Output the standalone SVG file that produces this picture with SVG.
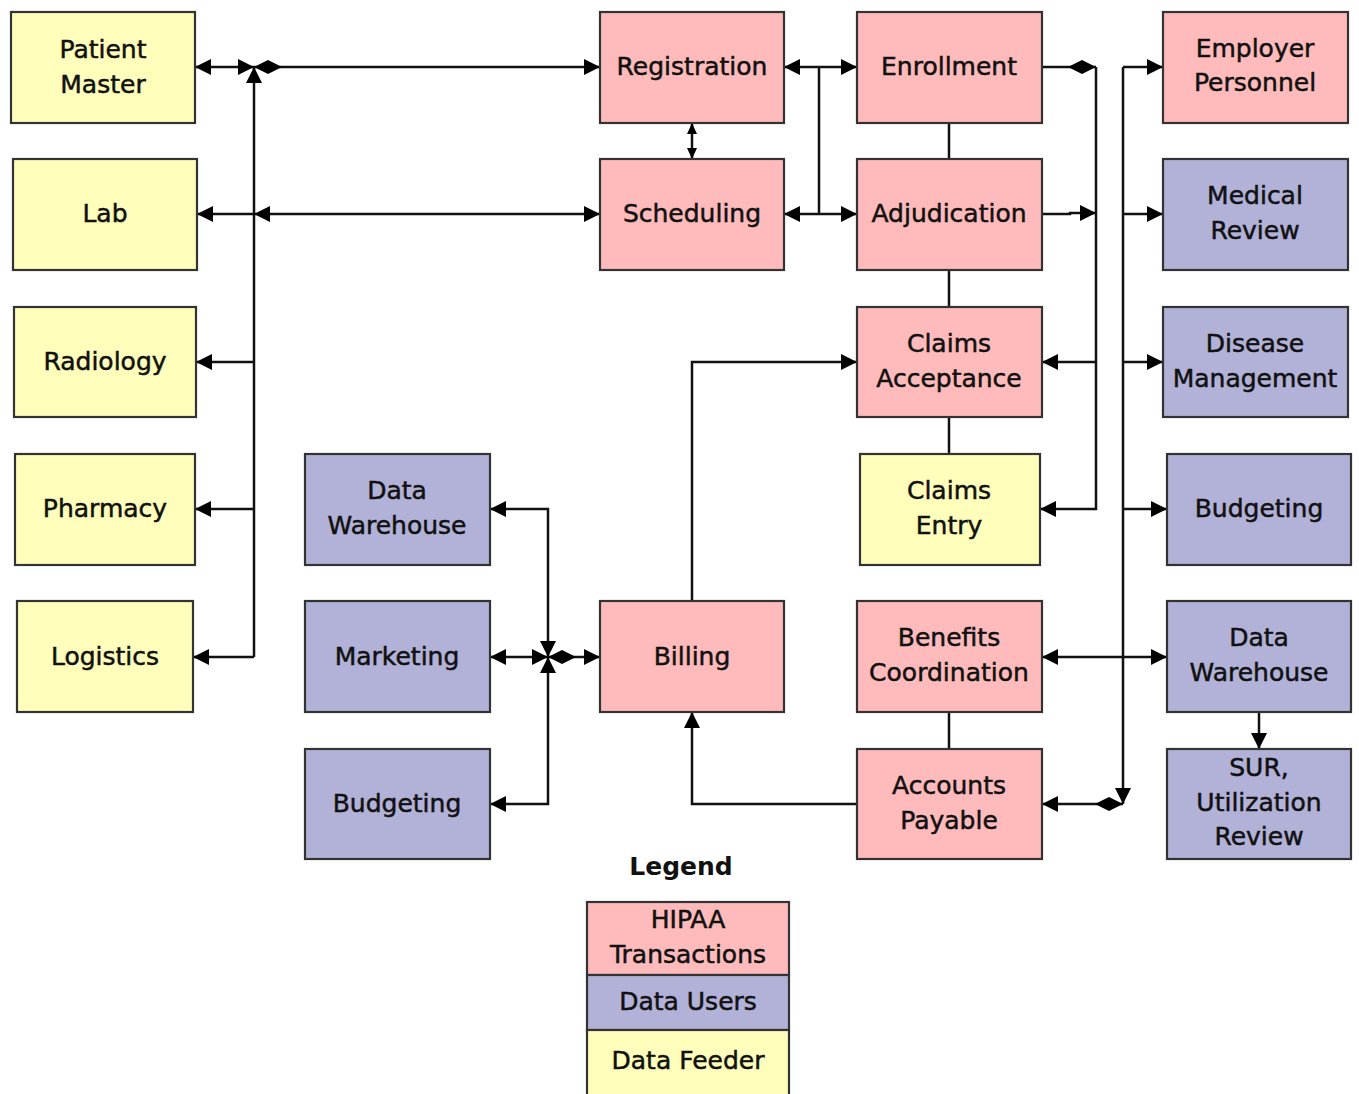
<svg xmlns="http://www.w3.org/2000/svg" width="1359" height="1094" viewBox="0 0 1359 1094">
<style>
.n rect{stroke:#333;stroke-width:2.2}
.hip{fill:#FFBBBB}
.usr{fill:#B2B2D9}
.fed{fill:#FFFFBB}
text{font-family:"DejaVu Sans","Verdana",sans-serif;font-size:25px;fill:#111;stroke:#111;stroke-width:0.5;text-anchor:middle}
.c path{fill:none;stroke:#111;stroke-width:2.5}
.lg{font-weight:bold;stroke-width:0}
</style>
<defs>
<marker id="a" markerUnits="userSpaceOnUse" markerWidth="16" markerHeight="16" refX="14" refY="7" orient="auto-start-reverse" viewBox="0 0 14 14"><path d="M0,0 L14,7 L0,14 z" fill="#000"/></marker>
<marker id="s" markerUnits="userSpaceOnUse" markerWidth="11" markerHeight="11" refX="11" refY="5" orient="auto-start-reverse" viewBox="0 0 11 10"><path d="M0,0 L11,5 L0,10 z" fill="#000"/></marker>
<marker id="d" markerUnits="userSpaceOnUse" markerWidth="28" markerHeight="16" refX="0" refY="7" orient="auto" viewBox="0 0 28 14"><path d="M0,7 L14,0 L28,7 L14,14 z" fill="#000"/></marker>
</defs>
<rect width="1359" height="1094" fill="#fff"/>
<g class="c" id="connectors">
<path d="M254,67 L195,67" marker-start="url(#a)" marker-end="url(#a)"/>
<path d="M254,657 L254,67" marker-end="url(#a)"/>
<path d="M254,67 L600,67" marker-start="url(#d)" marker-end="url(#a)"/>
<path d="M254,214 L197,214" marker-end="url(#a)"/>
<path d="M254,214 L600,214" marker-start="url(#a)" marker-end="url(#a)"/>
<path d="M254,362 L196,362" marker-end="url(#a)"/>
<path d="M254,509 L195,509" marker-end="url(#a)"/>
<path d="M254,657 L193,657" marker-end="url(#a)"/>
<path d="M692,123 L692,159" marker-start="url(#s)" marker-end="url(#s)"/>
<path d="M784,67 L857,67" marker-start="url(#a)" marker-end="url(#a)"/>
<path d="M784,214 L857,214" marker-start="url(#a)" marker-end="url(#a)"/>
<path d="M819,67 L819,214"/>
<path d="M949,123 L949,159"/>
<path d="M949,270 L949,307"/>
<path d="M949,417 L949,454"/>
<path d="M949,712 L949,749"/>
<path d="M1096,67 L1042,67" marker-start="url(#d)"/>
<path d="M1096,67 L1096,509 L1040,509" marker-end="url(#a)"/>
<path d="M1096,362 L1042,362" marker-end="url(#a)"/>
<path d="M1042,214 L1070,214 L1070,213 L1096,213" marker-end="url(#a)"/>
<path d="M1123,67 L1163,67" marker-end="url(#a)"/>
<path d="M1123,67 L1123,804" marker-end="url(#a)"/>
<path d="M1123,804 L1042,804" marker-start="url(#d)" marker-end="url(#a)"/>
<path d="M1123,214 L1163,214" marker-end="url(#a)"/>
<path d="M1123,362 L1163,362" marker-end="url(#a)"/>
<path d="M1123,509 L1167,509" marker-end="url(#a)"/>
<path d="M1042,657 L1167,657" marker-start="url(#a)" marker-end="url(#a)"/>
<path d="M1259,712 L1259,749" marker-end="url(#a)"/>
<path d="M692,601 L692,362 L857,362" marker-end="url(#a)"/>
<path d="M857,804 L692,804 L692,712" marker-end="url(#a)"/>
<path d="M548,657 L548,509 L490,509" marker-start="url(#a)" marker-end="url(#a)"/>
<path d="M548,657 L548,804 L490,804" marker-start="url(#a)" marker-end="url(#a)"/>
<path d="M548,657 L490,657" marker-start="url(#a)" marker-end="url(#a)"/>
<path d="M548,657 L600,657" marker-start="url(#d)" marker-end="url(#a)"/>
</g>
<g class="n" id="patient-master"><rect class="fed" x="11" y="12" width="184" height="111"/><text x="103" y="58">Patient</text><text x="103" y="93">Master</text></g>
<g class="n" id="lab"><rect class="fed" x="13" y="159" width="184" height="111"/><text x="105" y="222">Lab</text></g>
<g class="n" id="radiology"><rect class="fed" x="14" y="307" width="182" height="110"/><text x="105" y="370">Radiology</text></g>
<g class="n" id="pharmacy"><rect class="fed" x="15" y="454" width="180" height="111"/><text x="105" y="517">Pharmacy</text></g>
<g class="n" id="logistics"><rect class="fed" x="17" y="601" width="176" height="111"/><text x="105" y="665">Logistics</text></g>
<g class="n" id="data-warehouse-1"><rect class="usr" x="305" y="454" width="185" height="111"/><text x="397" y="499">Data</text><text x="397" y="534">Warehouse</text></g>
<g class="n" id="marketing"><rect class="usr" x="305" y="601" width="185" height="111"/><text x="397" y="665">Marketing</text></g>
<g class="n" id="budgeting-1"><rect class="usr" x="305" y="749" width="185" height="110"/><text x="397" y="812">Budgeting</text></g>
<g class="n" id="registration"><rect class="hip" x="600" y="12" width="184" height="111"/><text x="692" y="75">Registration</text></g>
<g class="n" id="scheduling"><rect class="hip" x="600" y="159" width="184" height="111"/><text x="692" y="222">Scheduling</text></g>
<g class="n" id="billing"><rect class="hip" x="600" y="601" width="184" height="111"/><text x="692" y="665">Billing</text></g>
<g class="n" id="enrollment"><rect class="hip" x="857" y="12" width="185" height="111"/><text x="949" y="75">Enrollment</text></g>
<g class="n" id="adjudication"><rect class="hip" x="857" y="159" width="185" height="111"/><text x="949" y="222">Adjudication</text></g>
<g class="n" id="claims-acceptance"><rect class="hip" x="857" y="307" width="185" height="110"/><text x="949" y="352">Claims</text><text x="949" y="387">Acceptance</text></g>
<g class="n" id="claims-entry"><rect class="fed" x="860" y="454" width="180" height="111"/><text x="949" y="499">Claims</text><text x="949" y="534">Entry</text></g>
<g class="n" id="benefits-coordination"><rect class="hip" x="857" y="601" width="185" height="111"/><text x="949" y="646">Benefits</text><text x="949" y="681">Coordination</text></g>
<g class="n" id="accounts-payable"><rect class="hip" x="857" y="749" width="185" height="110"/><text x="949" y="794">Accounts</text><text x="949" y="829">Payable</text></g>
<g class="n" id="employer-personnel"><rect class="hip" x="1163" y="12" width="185" height="111"/><text x="1255" y="57">Employer</text><text x="1255" y="91">Personnel</text></g>
<g class="n" id="medical-review"><rect class="usr" x="1163" y="159" width="185" height="111"/><text x="1255" y="204">Medical</text><text x="1255" y="239">Review</text></g>
<g class="n" id="disease-management"><rect class="usr" x="1163" y="307" width="185" height="110"/><text x="1255" y="352">Disease</text><text x="1255" y="387">Management</text></g>
<g class="n" id="budgeting-2"><rect class="usr" x="1167" y="454" width="184" height="111"/><text x="1259" y="517">Budgeting</text></g>
<g class="n" id="data-warehouse-2"><rect class="usr" x="1167" y="601" width="184" height="111"/><text x="1259" y="646">Data</text><text x="1259" y="681">Warehouse</text></g>
<g class="n" id="sur-utilization-review"><rect class="usr" x="1167" y="749" width="184" height="110"/><text x="1259" y="776">SUR,</text><text x="1259" y="811">Utilization</text><text x="1259" y="845">Review</text></g>
<g class="n" id="legend">
<text class="lg" x="681" y="875">Legend</text>
<rect class="hip" x="587" y="902" width="202" height="73"/>
<rect class="usr" x="587" y="975" width="202" height="55"/>
<rect class="fed" x="587" y="1030" width="202" height="70"/>
<text x="688" y="928">HIPAA</text><text x="688" y="963">Transactions</text>
<text x="688" y="1010">Data Users</text>
<text x="688" y="1069">Data Feeder</text>
</g>
</svg>
